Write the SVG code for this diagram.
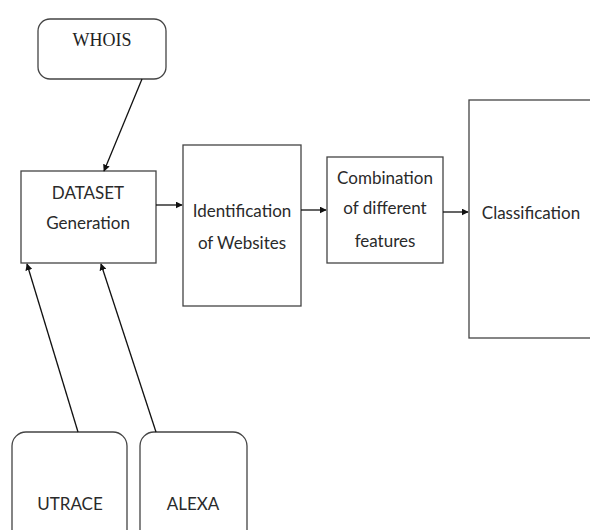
<svg xmlns="http://www.w3.org/2000/svg" width="590" height="530" viewBox="0 0 590 530">
<defs>
<marker id="ah" viewBox="0 0 10 10" refX="9" refY="5" markerWidth="7" markerHeight="7" orient="auto" markerUnits="userSpaceOnUse">
<path d="M0,0 L10,5 L0,10 z" fill="#111"/>
</marker>
</defs>
<style>
.box{fill:#fff;stroke:#444;stroke-width:1.3}
.t{font-family:Lato,"Open Sans",sans-serif;font-size:17px;fill:#2a2a2a;text-anchor:middle}
.s{font-family:"Liberation Serif",serif;font-size:18px;fill:#222;text-anchor:middle}
.c{stroke:#111;stroke-width:1.3;fill:none;marker-end:url(#ah)}
</style>
<rect width="590" height="530" fill="#fff"/>
<g id="whois"><rect class="box" x="38" y="19" width="128" height="60" rx="12"/><text class="s" x="102" y="46">WHOIS</text></g>
<g id="dataset"><rect class="box" x="21" y="171" width="135" height="92"/><text class="t" x="88" y="199">DATASET</text><text class="t" x="88" y="229">Generation</text></g>
<g id="ident"><rect class="box" x="183" y="145" width="118" height="161"/><text class="t" x="242" y="217">Identification</text><text class="t" x="242" y="249">of Websites</text></g>
<g id="comb"><rect class="box" x="327" y="157" width="116" height="106"/><text class="t" x="385" y="184">Combination</text><text class="t" x="385" y="214">of different</text><text class="t" x="385" y="247">features</text></g>
<g id="class"><rect class="box" x="469" y="100" width="130" height="238"/><text class="t" x="531" y="219">Classification</text></g>
<g id="utrace"><rect class="box" x="12" y="432" width="115" height="120" rx="14"/><text class="t" x="70" y="510">UTRACE</text></g>
<g id="alexa"><rect class="box" x="140" y="432" width="107" height="120" rx="14"/><text class="t" x="193" y="510">ALEXA</text></g>
<g id="connectors">
<line class="c" x1="142" y1="79" x2="104" y2="171"/>
<line class="c" x1="156" y1="205" x2="182" y2="205"/>
<line class="c" x1="301" y1="210" x2="326" y2="210"/>
<line class="c" x1="443" y1="212" x2="468" y2="212"/>
<line class="c" x1="78" y1="432" x2="27" y2="264"/>
<line class="c" x1="156" y1="432" x2="101" y2="264"/>
</g>
</svg>
